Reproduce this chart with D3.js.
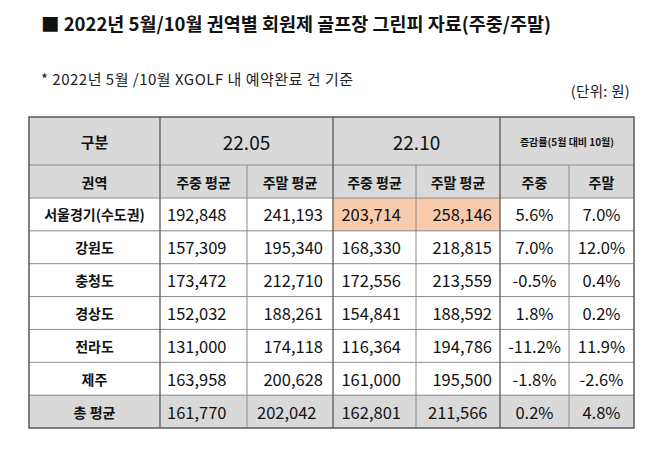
<!DOCTYPE html>
<html>
<head>
<meta charset="utf-8">
<script src="https://cdn.jsdelivr.net/npm/d3@7"></script>
<style>
  body { margin: 0; background: #fff; }
  svg { font-family: "Noto Sans CJK KR", "Noto Sans", sans-serif; display: block; }
</style>
</head>
<body>
<svg width="658" height="449"></svg>
<script>
// data
const regions = ["서울경기(수도권)", "강원도", "충청도", "경상도", "전라도", "제주"];
const mayWeekday = [192848, 157309, 173472, 152032, 131000, 163958];
const mayWeekend = [241193, 195340, 212710, 188261, 174118, 200628];
const octWeekday = [203714, 168330, 172556, 154841, 116364, 161000];
const octWeekend = [258146, 218815, 213559, 188592, 194786, 195500];
const chgWeekday = [5.6, 7.0, -0.5, 1.8, -11.2, -1.8];
const chgWeekend = [7.0, 12.0, 0.4, 0.2, 11.9, -2.6];
const totalLabel = "총 평균";
const totalRow = [161770, 202042, 162801, 211566, 0.2, 4.8];

const groupHeaders = ["구분", "22.05", "22.10", "증감률(5월 대비 10월)"];
const colHeaders = ["권역", "주중 평균", "주말 평균", "주중 평균", "주말 평균", "주중", "주말"];
const highlightRow = "서울경기(수도권)";

const svg = d3.select("svg");
const fmtNum = d3.format(",");
const fmtPct = d => d.toFixed(1) + "%";

// layout
const colEdges = [29, 160, 247, 333, 416, 500, 569, 634];
const tTop = 117, head1 = 165, head2 = 198, tBottom = 428;
const gray = "#d9d9d9", orange = "#f8cbad";

// rows: regions + total
const rows = regions.map((r, i) => ({
  label: r,
  vals: [mayWeekday[i], mayWeekend[i], octWeekday[i], octWeekend[i], chgWeekday[i], chgWeekend[i]],
  total: false
}));
rows.push({ label: totalLabel, vals: totalRow, total: true });

const y = d3.scaleBand().domain(d3.range(rows.length)).range([head2, tBottom]);
const x = d3.scaleOrdinal().domain(d3.range(8)).range(colEdges);

// title + notes
svg.append("text")
  .attr("x", 41).attr("y", 31)
  .attr("font-size", 18.5).attr("font-weight", "bold").attr("fill", "#111")
  .text("■ 2022년 5월/10월 권역별 회원제 골프장 그린피 자료(주중/주말)");
svg.append("text")
  .attr("x", 41).attr("y", 85)
  .attr("font-size", 15).attr("letter-spacing", 0.5).attr("fill", "#222")
  .text("* 2022년 5월 /10월 XGOLF 내 예약완료 건 기준");
svg.append("text")
  .attr("x", 630).attr("y", 97).attr("text-anchor", "end")
  .attr("font-size", 14.5).attr("letter-spacing", 0.3).attr("fill", "#222")
  .text("(단위: 원)");

const g = svg.append("g");

// header backgrounds
g.append("rect")
  .attr("x", x(0)).attr("y", tTop)
  .attr("width", x(7) - x(0)).attr("height", head2 - tTop)
  .attr("fill", gray);

// body cells
rows.forEach((row, ri) => {
  d3.range(7).forEach(ci => {
    let fill = row.total ? gray : "#fff";
    if (row.label === highlightRow && (ci === 3 || ci === 4)) fill = orange;
    g.append("rect")
      .attr("x", x(ci)).attr("y", y(ri))
      .attr("width", x(ci + 1) - x(ci)).attr("height", y.bandwidth())
      .attr("fill", fill);
  });
});

// grid lines
const thin = "#8a8a8a", thick = "#5a5a5a";
// horizontal
[head1, head2].concat(d3.range(1, rows.length).map(i => y(i))).forEach(yy => {
  g.append("line")
    .attr("x1", x(0)).attr("x2", x(7)).attr("y1", yy).attr("y2", yy)
    .attr("stroke", thin).attr("stroke-width", 1);
});
// vertical: group separators full height, sub separators below head1
[1, 3, 5].forEach(ci => {
  g.append("line")
    .attr("x1", x(ci)).attr("x2", x(ci)).attr("y1", tTop).attr("y2", tBottom)
    .attr("stroke", thick).attr("stroke-width", 1.3);
});
[2, 4, 6].forEach(ci => {
  g.append("line")
    .attr("x1", x(ci)).attr("x2", x(ci)).attr("y1", head1).attr("y2", tBottom)
    .attr("stroke", thin).attr("stroke-width", 1);
});
g.append("rect")
  .attr("x", x(0)).attr("y", tTop)
  .attr("width", x(7) - x(0)).attr("height", tBottom - tTop)
  .attr("fill", "none").attr("stroke", thick).attr("stroke-width", 1.5);

// group header text
const groupSpans = [[0, 1], [1, 3], [3, 5], [5, 7]];
groupHeaders.forEach((t, i) => {
  const [a, b] = groupSpans[i];
  const txt = g.append("text")
    .attr("x", (x(a) + x(b)) / 2).attr("y", (tTop + head1) / 2)
    .attr("text-anchor", "middle").attr("dominant-baseline", "central")
    .attr("fill", "#111")
    .text(t);
  if (i === 0) txt.attr("font-size", 15).attr("font-weight", "bold");
  else if (i === 3) txt.attr("font-size", 10).attr("font-weight", "bold");
  else txt.attr("font-size", 19);
});

// column header text
colHeaders.forEach((t, ci) => {
  g.append("text")
    .attr("x", (x(ci) + x(ci + 1)) / 2).attr("y", (head1 + head2) / 2)
    .attr("text-anchor", "middle").attr("dominant-baseline", "central")
    .attr("font-size", 14).attr("font-weight", "bold").attr("fill", "#111")
    .text(t);
});

// cell text placement per column: [anchor, x]
function place(ci, total) {
  const l = x(ci), r = x(ci + 1), c = (l + r) / 2;
  if (ci === 1) return ["start", l + 7];
  if (ci === 2) return total ? ["start", l + 10] : ["end", r - 10];
  if (ci === 3) return ["end", r - 15];
  if (ci === 4) return total ? ["start", l + 12] : ["end", r - 8];
  return ["middle", c];
}

rows.forEach((row, ri) => {
  const cy = y(ri) + y.bandwidth() / 2;
  g.append("text")
    .attr("x", (x(0) + x(1)) / 2).attr("y", cy)
    .attr("text-anchor", "middle").attr("dominant-baseline", "central")
    .attr("font-size", 14).attr("font-weight", "bold").attr("fill", "#111")
    .text(row.label);
  row.vals.forEach((v, k) => {
    const ci = k + 1;
    const [anchor, px] = place(ci, row.total);
    g.append("text")
      .attr("x", px).attr("y", cy)
      .attr("text-anchor", anchor).attr("dominant-baseline", "central")
      .attr("font-size", 16.5).attr("fill", "#111")
      .text(ci >= 5 ? fmtPct(v) : fmtNum(v));
  });
});
</script>
</body>
</html>
